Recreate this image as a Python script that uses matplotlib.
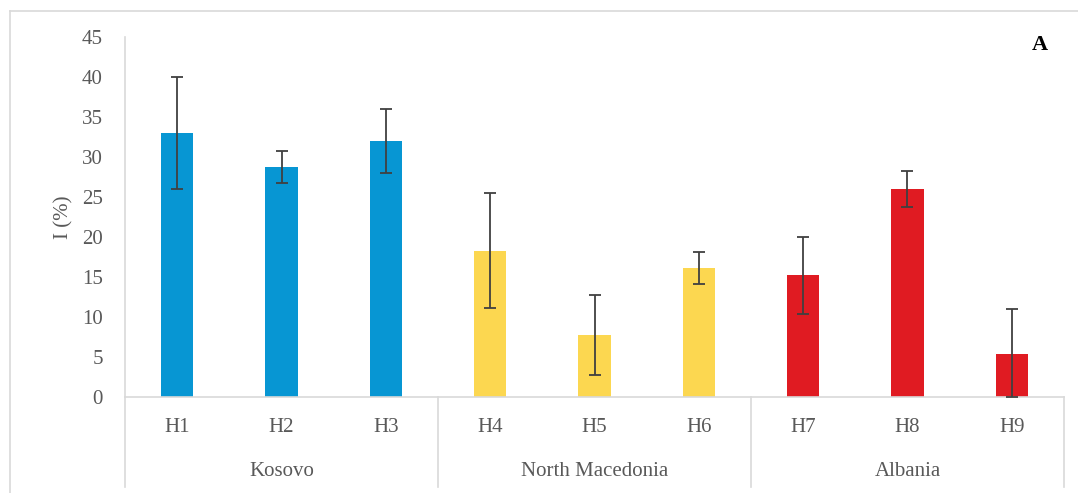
import matplotlib
matplotlib.use("Agg")
import matplotlib.pyplot as plt
from matplotlib.lines import Line2D

# --- data ---
sites = ["H1", "H2", "H3", "H4", "H5", "H6", "H7", "H8", "H9"]
countries = ["Kosovo", "North Macedonia", "Albania"]
sites_per_country = [3, 3, 3]
values = [33.0, 28.7, 32.0, 18.3, 7.8, 16.1, 15.2, 26.0, 5.4]
errors = [7.0, 2.0, 4.0, 7.2, 5.0, 2.0, 4.8, 2.3, 5.6]
country_colors = ["#0796D3", "#FCD750", "#E01B22"]
y_ticks = [0, 5, 10, 15, 20, 25, 30, 35, 40, 45]

plt.rcParams["font.family"] = ["Liberation Serif", "DejaVu Serif"]
TEXT = "#595959"
LINE = "#D9D9D9"
FS = 15

fig = plt.figure(figsize=(10.78, 4.93), dpi=100)
ax = fig.add_axes([125 / 1078, 96 / 493, 939 / 1078, 360 / 493])

colors = []
for c, n in zip(country_colors, sites_per_country):
    colors += [c] * n
x = list(range(len(sites)))
ax.bar(x, values, width=0.31, color=colors, zorder=2)
lower = [min(e, v) for v, e in zip(values, errors)]
ax.errorbar(x, values, yerr=[lower, errors], fmt="none", ecolor="#404040",
            elinewidth=1.3, capsize=4, capthick=1.3, zorder=3)

ax.set_xlim(-0.5, len(sites) - 0.5)
ax.set_ylim(0, 45)
ax.set_yticks(y_ticks)
ax.tick_params(axis="y", length=0, pad=16, labelsize=FS, labelcolor=TEXT)
ax.set_xticks([])
for s in ["top", "right"]:
    ax.spines[s].set_visible(False)
for s in ["left", "bottom"]:
    ax.spines[s].set_color(LINE)
    ax.spines[s].set_linewidth(1.2)

ax.set_ylabel("I (%)", fontsize=FS, color=TEXT, labelpad=6)

# two-level category axis
trans = ax.get_xaxis_transform()
for xi, s in zip(x, sites):
    ax.text(xi, -0.086, s, transform=trans, ha="center", va="center",
            fontsize=FS, color=TEXT)
start = -0.5
for name, n in zip(countries, sites_per_country):
    ax.text(start + n / 2, -0.208, name, transform=trans, ha="center",
            va="center", fontsize=FS, color=TEXT)
    start += n
edges = [-0.5]
for n in sites_per_country:
    edges.append(edges[-1] + n)
for e in edges:
    ax.plot([e, e], [0, -0.25], transform=trans, color=LINE, lw=1.2,
            clip_on=False)

ax.text(0.983, 0.978, "A", transform=ax.transAxes, ha="right", va="center",
        fontsize=16, fontweight="bold", color="black")

# outer chart frame
fig.add_artist(Line2D([10 / 1078, 1], [482 / 493, 482 / 493],
                      transform=fig.transFigure, color=LINE, lw=1.2))
fig.add_artist(Line2D([10 / 1078, 10 / 1078], [0, 482 / 493],
                      transform=fig.transFigure, color=LINE, lw=1.2))

fig.savefig("out.png", dpi=100)
